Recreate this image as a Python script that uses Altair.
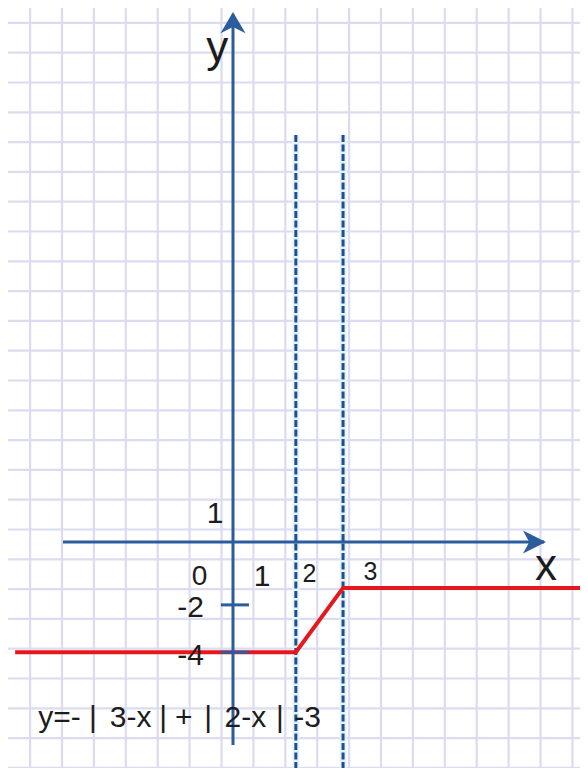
import altair as alt
import pandas as pd

# ---------------- values ----------------
# units: one grid square; origin where the drawn axes cross
func_x = [-6.83, 1.97, 3.45, 11.5]          # red graph vertices
func_y = [-3.70, -3.70, -1.54, -1.54]

asym_x = [1.97, 3.45]                        # dashed verticals (x = 2, x = 3)
asym_top = 13.66

tick_y = [-2.11, -3.70]                      # small marks on the y axis (-2, -4)
tick_x0, tick_x1 = -0.38, 0.50

yaxis_from, yaxis_to = -6.81, 17.70
xaxis_from, xaxis_to = -5.33, 9.75

grid_x = [-6.36, -5.36, -4.36, -3.36, -2.36, -1.36, -0.36, 0.64, 1.64, 2.64,
          3.64, 4.64, 5.64, 6.64, 7.64, 8.64, 9.64, 10.64]
grid_y = [17.42, 16.42, 15.42, 14.42, 13.42, 12.42, 11.42, 10.42, 9.42, 8.42,
          7.42, 6.42, 5.42, 4.42, 3.42, 2.42, 1.42, 0.42, -0.58, -1.58,
          -2.58, -3.58, -4.58, -5.58, -6.58, -7.58]

label_text = ["y", "x", "1", "0", "1", "2", "3", "-2", "-4"]
label_x = [-0.49, 9.81, -0.56, -1.05, 0.91, 2.40, 4.31, -1.33, -1.33]
label_y = [16.11, -1.28, 0.64, -1.44, -1.48, -1.34, -1.28, -2.52, -4.13]
label_size = [44, 44, 30, 28, 30, 25, 25, 30, 30]

formula_text = ["y=-", "|", "3-x", "|", "+", "|", "2-x", "|", "-3"]
formula_x = [-5.44, -4.39, -3.21, -2.19, -1.54, -0.78, 0.39, 1.47, 2.34]
formula_y = -6.21

# ---------------- layout ----------------
PAGE_MARGIN = 8
W, H = 572, 760
ORIGIN_PX, ORIGIN_PY = 233, 542
UNIT_X, UNIT_Y = 31.9, 29.8
x_dom = [(PAGE_MARGIN - ORIGIN_PX) / UNIT_X, (PAGE_MARGIN + W - ORIGIN_PX) / UNIT_X]
y_dom = [(ORIGIN_PY - PAGE_MARGIN - H) / UNIT_Y, (ORIGIN_PY - PAGE_MARGIN) / UNIT_Y]

xs = alt.Scale(domain=x_dom, nice=False, zero=False)
ys = alt.Scale(domain=y_dom, nice=False, zero=False)
X = lambda f: alt.X(f, type="quantitative", scale=xs, axis=None)
Y = lambda f: alt.Y(f, type="quantitative", scale=ys, axis=None)

AXIS_BLUE = "#2b5c9e"
GRID = "#dcdcf0"
FONT = "Liberation Sans"
INK = "#1c1c1c"

grid_v = alt.Chart(pd.DataFrame({"x": grid_x})).mark_rule(
    color=GRID, strokeWidth=2.2).encode(
    x=X("x"), y=alt.value(0), y2=alt.value(H))
grid_h = alt.Chart(pd.DataFrame({"y": grid_y})).mark_rule(
    color=GRID, strokeWidth=2.2).encode(
    y=Y("y"), x=alt.value(0), x2=alt.value(W))

asym_df = pd.DataFrame({"x": asym_x, "y": [asym_top] * 2, "y2": [y_dom[0]] * 2})
halo = alt.Chart(asym_df).mark_rule(color="#e4f2fc", strokeWidth=7).encode(
    x=X("x"), y=Y("y"), y2="y2")
dashed = alt.Chart(asym_df).mark_rule(
    color="#1f4f8c", strokeWidth=3, strokeDash=[7, 2.5]).encode(
    x=X("x"), y=Y("y"), y2="y2")

yaxis = alt.Chart(pd.DataFrame({"x": [0], "y": [yaxis_from], "y2": [yaxis_to]})).mark_rule(
    color=AXIS_BLUE, strokeWidth=3).encode(x=X("x"), y=Y("y"), y2="y2")
xaxis = alt.Chart(pd.DataFrame({"y": [0], "x": [xaxis_from], "x2": [xaxis_to]})).mark_rule(
    color=AXIS_BLUE, strokeWidth=3).encode(y=Y("y"), x=X("x"), x2="x2")

arrow_up = alt.Chart(pd.DataFrame({"x": [0], "y": [17.43]})).mark_point(
    shape="M0,-0.85L1,0.85L0,0.35L-1,0.85Z", filled=True, opacity=1,
    size=625, color=AXIS_BLUE).encode(x=X("x"), y=Y("y"))
arrow_right = alt.Chart(pd.DataFrame({"x": [9.45], "y": [0]})).mark_point(
    shape="M1,0L-1,-1L-0.45,0L-1,1Z", filled=True, opacity=1,
    size=529, color=AXIS_BLUE).encode(x=X("x"), y=Y("y"))

red = alt.Chart(pd.DataFrame({"x": func_x, "y": func_y, "o": range(len(func_x))})).mark_line(
    color="#e5191c", strokeWidth=4, clip=True).encode(
    x=X("x"), y=Y("y"), order="o:Q")

ticks = alt.Chart(pd.DataFrame({"y": tick_y, "x": [tick_x0] * 2, "x2": [tick_x1] * 2})).mark_rule(
    color=AXIS_BLUE, strokeWidth=3).encode(y=Y("y"), x=X("x"), x2="x2")

labels = alt.Chart(pd.DataFrame({"x": label_x, "y": label_y, "t": label_text,
                                 "s": label_size})).mark_text(
    font=FONT, color=INK, align="center", baseline="alphabetic").encode(
    x=X("x"), y=Y("y"), text="t:N", size=alt.Size("s:Q", scale=None, legend=None))

formula = alt.Chart(pd.DataFrame({"x": formula_x, "y": [formula_y] * len(formula_x),
                                  "t": formula_text})).mark_text(
    font=FONT, color=INK, align="center", baseline="alphabetic", fontSize=30).encode(
    x=X("x"), y=Y("y"), text="t:N")

chart = alt.layer(
    grid_v, grid_h, halo, dashed, red, yaxis, xaxis, ticks, arrow_up, arrow_right,
    labels, formula
).properties(
    width=W, height=H, padding=0, autosize=alt.AutoSizeParams(type="none"),
    background="white"
).configure_view(stroke=None)

chart.save("out.html", embed_options={"renderer": "svg", "actions": False})
